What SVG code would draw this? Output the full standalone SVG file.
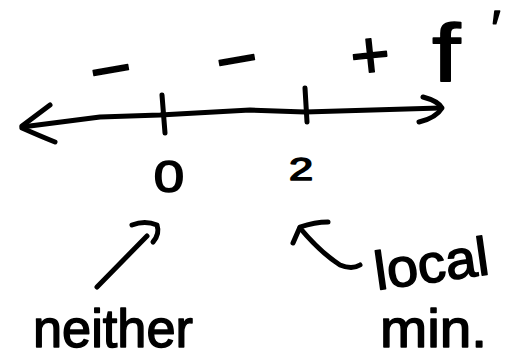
<svg xmlns="http://www.w3.org/2000/svg" width="512" height="360" viewBox="0 0 512 360">
<style>
.ink{fill:none;stroke:#000;stroke-width:5;stroke-linecap:round;stroke-linejoin:round}
.t{font-family:"Liberation Sans","DejaVu Sans",sans-serif;fill:#000;stroke:#000;stroke-width:1.5;stroke-linejoin:round}
</style>
<rect width="512" height="360" fill="#fff"/>
<g id="axis">
<path class="ink" d="M22,127 L100,117 L160,115 L250,110 L305,112 L440,108"/>
<path class="ink" d="M50,105 L22,126 M22,128 Q40,136 55,142"/>
<path class="ink" d="M423,97 Q438,101 442,108 Q436,118 419,122"/>
<path class="ink" d="M162,95 L165,133"/>
<path class="ink" d="M305,88 L307,122"/>
</g>
<g id="signs">
<text class="t" x="111" y="94" font-size="72" text-anchor="middle" transform="rotate(-10 111 71)">−</text>
<text class="t" x="237" y="84" font-size="72" text-anchor="middle" transform="rotate(-10 237 61)">−</text>
<text class="t" x="370" y="78" font-size="68" text-anchor="middle" transform="rotate(-6 370 55)">+</text>
<text class="t" transform="translate(432 81) scale(1.25 1)" font-size="82" stroke-width="0.5">f</text>
<text class="t" x="496" y="46" font-size="50" text-anchor="middle">′</text>
</g>
<g id="node-0"><text class="t" transform="translate(169 192) scale(1.3 1.05)" font-size="42" text-anchor="middle" stroke-width="2.5">0</text></g>
<g id="node-2"><text class="t" transform="translate(301 180) scale(1.4 1)" font-size="31" text-anchor="middle" stroke-width="2.5">2</text></g>
<g id="label-neither"><text class="t" x="33" y="347" font-size="54" textLength="160" lengthAdjust="spacingAndGlyphs">neither</text></g>
<g id="label-local-min">
<text class="t" x="377" y="290" font-size="54" textLength="115" lengthAdjust="spacingAndGlyphs" transform="rotate(-8 377 290)">local</text>
<text class="t" x="380" y="347" font-size="54" textLength="107" lengthAdjust="spacingAndGlyphs">min.</text>
</g>
<g id="connectors">
<path class="ink" d="M97,287 L147,236"/>
<path class="ink" d="M132,225 Q145,220 157,225 Q160,234 153,242"/>
<path class="ink" d="M293,243 L300,227 Q315,222 328,222"/>
<path class="ink" d="M300,228 Q320,252 340,265 Q352,270 360,265"/>
</g>
</svg>
